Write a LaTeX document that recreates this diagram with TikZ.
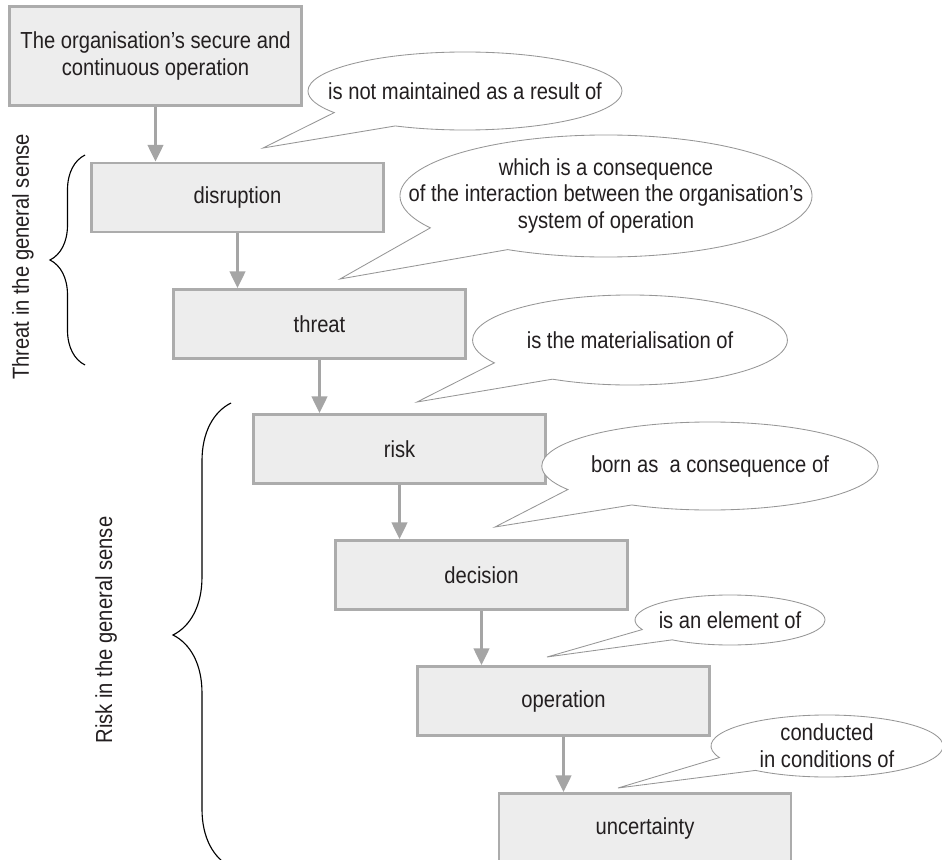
\documentclass[tikz,border=0pt]{standalone}
\usepackage{fontspec}
\setmainfont[FakeStretch=0.87]{Liberation Sans}
\usetikzlibrary{arrows.meta,shapes.callouts,decorations.pathreplacing}
\definecolor{boxfill}{RGB}{237,237,237}
\definecolor{boxline}{RGB}{172,172,172}
\definecolor{arrline}{RGB}{165,165,165}
\definecolor{bubline}{RGB}{150,150,150}
\definecolor{ink}{RGB}{35,31,32}

\begin{document}
\begin{tikzpicture}[x=0.025cm, y=-0.025cm, text=ink,
        font=\fontsize{16.5}{19}\selectfont,
        box/.style={draw=boxline, fill=boxfill, line width=2pt, minimum width=7.3cm,
            minimum height=1.72cm, inner sep=0pt, align=center},
        said/.style={ellipse callout, draw=bubline, fill=white, line width=0.6pt,
            inner sep=0pt, align=center, callout pointer arc=30},
        arr/.style={draw=arrline, line width=2.2pt, -{Triangle[length=12pt,width=11pt]}},
        brc/.style={decorate, decoration={brace, amplitude=#1}, line width=0.8pt, black}]
    \useasboundingbox (0,0) rectangle (942,860);

    % the chain of boxes
    \node[box, minimum height=2.48cm] (secure) at (155.5,56) {The organisation’s secure and\\continuous operation};
    \node[box] (disruption) at (237.5,197.5) {disruption};
    \node[box] (threat) at (319.5,324) {threat};
    \node[box] (risk) at (399.5,449) {risk};
    \node[box] (decision) at (481.5,575) {decision};
    \node[box] (operation) at (563.5,701) {operation};
    \node[box] (uncertainty) at (645,828) {uncertainty};

    \draw[arr] (secure.south) -- (secure.south |- disruption.north);
    \draw[arr] (disruption.south) -- (disruption.south |- threat.north);
    \draw[arr] (threat.south) -- (threat.south |- risk.north);
    \draw[arr] (risk.south) -- (risk.south |- decision.north);
    \draw[arr] (decision.south) -- (decision.south |- operation.north);
    \draw[arr] (operation.south) -- (operation.south |- uncertainty.north);

    % speech bubbles
    \coordinate (tipa) at (263,148);
    \coordinate (tipb) at (340,279);
    \coordinate (tipc) at (417,402);
    \coordinate (tipd) at (495,527);
    \coordinate (tipe) at (547,657);
    \coordinate (tipf) at (618,788);
    \node[said, inner xsep=-20pt, minimum width=7.85cm, minimum height=1.95cm,
        callout absolute pointer=(tipa)] (notkept) at (465,91) {is not maintained as a result of};
    \node[said, inner xsep=-38pt, minimum width=10.3cm, minimum height=3.05cm,
        callout absolute pointer=(tipb)] (interaction) at (606,196)
        {which is a consequence\\of the interaction between the organisation’s\\system of operation};
    \node[said, minimum width=7.87cm, minimum height=2.25cm,
        callout absolute pointer=(tipc)] (materialise) at (630,340) {is the materialisation of};
    \node[said, minimum width=7.9cm, minimum height=2.2cm,
        callout absolute pointer=(tipd)] (born) at (710,466) {born as~ a consequence of};
    \node[said, inner xsep=-3pt, minimum width=4.75cm, minimum height=1.25cm,
        callout absolute pointer=(tipe)] (element) at (730,620) {is an element of};
    \node[said, minimum width=5.8cm, minimum height=1.55cm,
        callout absolute pointer=(tipf)] (conditions) at (827,746) {conducted\\in conditions of};

    % braces on the left
    \draw[brc=0.875cm] (85,365) -- (85,155);
    \node[rotate=90, inner sep=0pt] (threatsense) at (23,257) {Threat in the general sense};
    \draw[brc=1.45cm] (231,867) -- (231,403);
    \node[rotate=90, inner sep=0pt] (risksense) at (106,630) {Risk in the general sense};
\end{tikzpicture}
\end{document}
